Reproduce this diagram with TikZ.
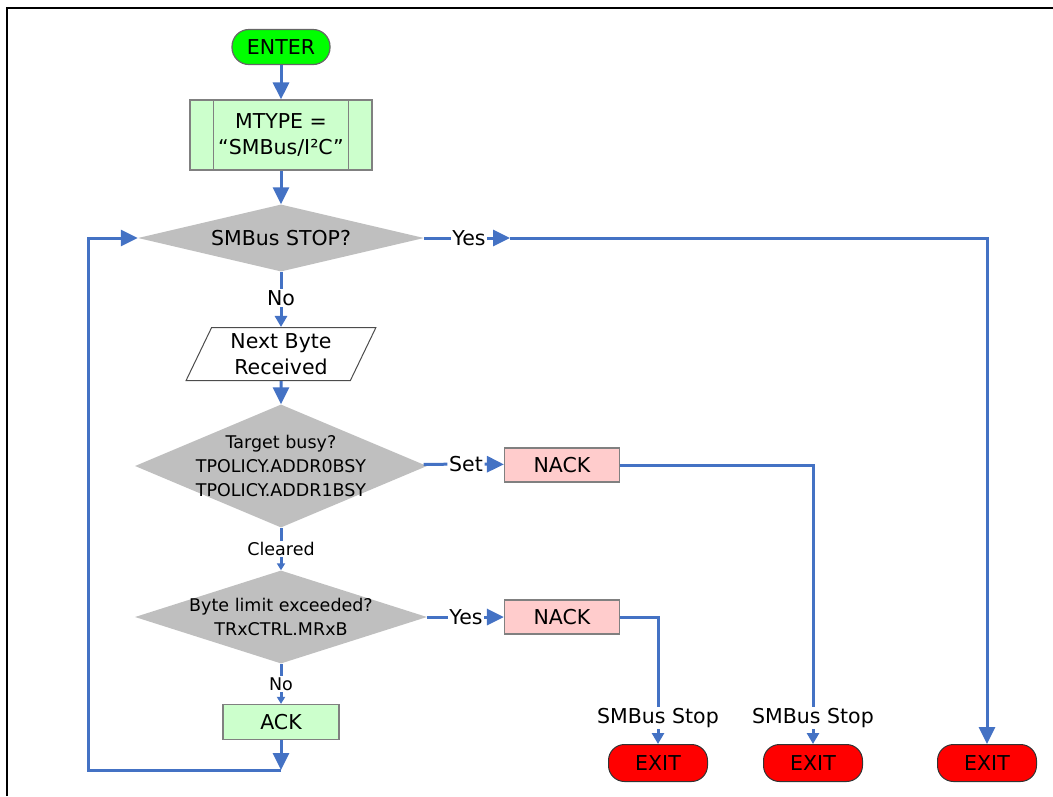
\documentclass[tikz,border=0pt]{standalone}
\usepackage{fontspec}
\setmainfont{DejaVu Sans}
\usepackage{xcolor}
\usetikzlibrary{arrows.meta,shapes.geometric,shapes.misc}
\definecolor{flowblue}{HTML}{4472C4}

\begin{document}
\begin{tikzpicture}[x=1pt,y=-1pt,
  every node/.style={font=\fontsize{20.5}{26}\selectfont},
  small/.style={font=\fontsize{17.5}{24}\selectfont},
  box/.style={draw=gray, line width=1.2pt, minimum height=34pt, inner sep=0pt},
  dec/.style={diamond, fill=gray!50, align=center},
  exitbox/.style={draw=gray!40!black, line width=1pt, fill=red, rounded corners=16pt, minimum width=99pt, minimum height=37pt},
  lbl/.style={inner sep=1.5pt},
  flow/.style={draw=flowblue, line width=3pt},
  arr/.style={flow, -{Triangle[length=17pt,width=16pt]}},
  arrs/.style={flow, -{Triangle[length=11pt,width=12pt]}},
  arrt/.style={flow, -{Triangle[length=7pt,width=8pt]}}]
\useasboundingbox (0,0) rectangle (1053,796);
\draw[line width=1.5pt] (7,796) |- (1053,8);

\node[draw=gray!80!black, fill=green, line width=1.2pt, rounded corners=17pt, minimum width=98pt, minimum height=35pt] (enter) at (281,47) {ENTER};
\node[box, fill=green!20, minimum width=182pt, minimum height=70pt, align=center] (mtype) at (281,135) {MTYPE =\\“SMBus/I²C”};
\draw[gray, line width=1.2pt] ([xshift=24pt]mtype.north west) -- ([xshift=24pt]mtype.south west)
  ([xshift=-24pt]mtype.north east) -- ([xshift=-24pt]mtype.south east);

\node[dec, aspect=4.27, inner sep=0pt, minimum width=286pt, minimum height=67pt] (stop) at (281,238) {SMBus STOP?};
\node[trapezium, trapezium left angle=67.5, trapezium right angle=112.5, trapezium stretches=true, draw=gray!60!black, line width=1pt, minimum width=190pt, minimum height=53pt, align=center] (nbyte) at (281,354) {Next Byte\\Received};
\node[dec, small, aspect=2.37, inner sep=-8pt, minimum width=292pt, minimum height=123pt] (busy) at (281,466) {Target busy?\\TPOLICY.ADDR0BSY\\TPOLICY.ADDR1BSY};
\node[dec, small, aspect=3.14, inner sep=-4pt, minimum width=292pt, minimum height=93pt] (limit) at (281,617) {Byte limit exceeded?\\TRxCTRL.MRxB};

\node[box, fill=red!20, minimum width=115pt] (nack1) at (562,465) {NACK};
\node[box, fill=red!20, minimum width=115pt] (nack2) at (562,617) {NACK};
\node[box, fill=green!20, minimum width=116pt, minimum height=35pt] (ack) at (281,722) {ACK};

\node[exitbox] (exit1) at (658,763) {EXIT};
\node[exitbox] (exit2) at (813,763) {EXIT};
\node[exitbox] (exit3) at (987,763) {EXIT};

% labels on the connectors
\node[lbl] (no1) at (281,298) {No};
\node[lbl] (yes1) at (469,238) {Yes};
\node[lbl] (set) at (466,464) {Set};
\node[lbl, small] (clr) at (281,549) {Cleared};
\node[lbl] (yes2) at (466,617) {Yes};
\node[lbl, small] (no2) at (281,684) {No};
\node[lbl] (stop1) at (658,718) {SMBus Stop};
\node[lbl] (stop2) at (813,718) {SMBus Stop};

\coordinate (m1) at (510,238);
\coordinate (loop) at (281,770);
\coordinate (back) at (88,238);

\draw[arr] (enter) -- (mtype);
\draw[arr] (mtype) -- (stop);
\draw[flow] (stop) -- (no1);
\draw[arrs] (no1) -- (nbyte);
\draw[arr] (nbyte) -- (busy);
\draw[flow] (busy) -- (set);
\draw[arr] (set) -- (nack1);
\draw[flow] (busy) -- (clr);
\draw[arrt] (clr) -- (limit);
\draw[flow] (limit) -- (yes2);
\draw[arr] (yes2) -- (nack2);
\draw[flow] (limit) -- (no2);
\draw[arrt] (no2) -- (ack);
\draw[arr] (ack) -- (loop);
\draw[arr] (loop) -| (back) -- (stop);

\draw[flow] (stop) -- (yes1);
\draw[arr] (yes1) -- (m1);
\draw[arr] (m1) -| (exit3);
\draw[flow] (nack1) -| (stop2);
\draw[arrs] (stop2) -- (exit2);
\draw[flow] (nack2) -| (stop1);
\draw[arrs] (stop1) -- (exit1);
\end{tikzpicture}
\end{document}
